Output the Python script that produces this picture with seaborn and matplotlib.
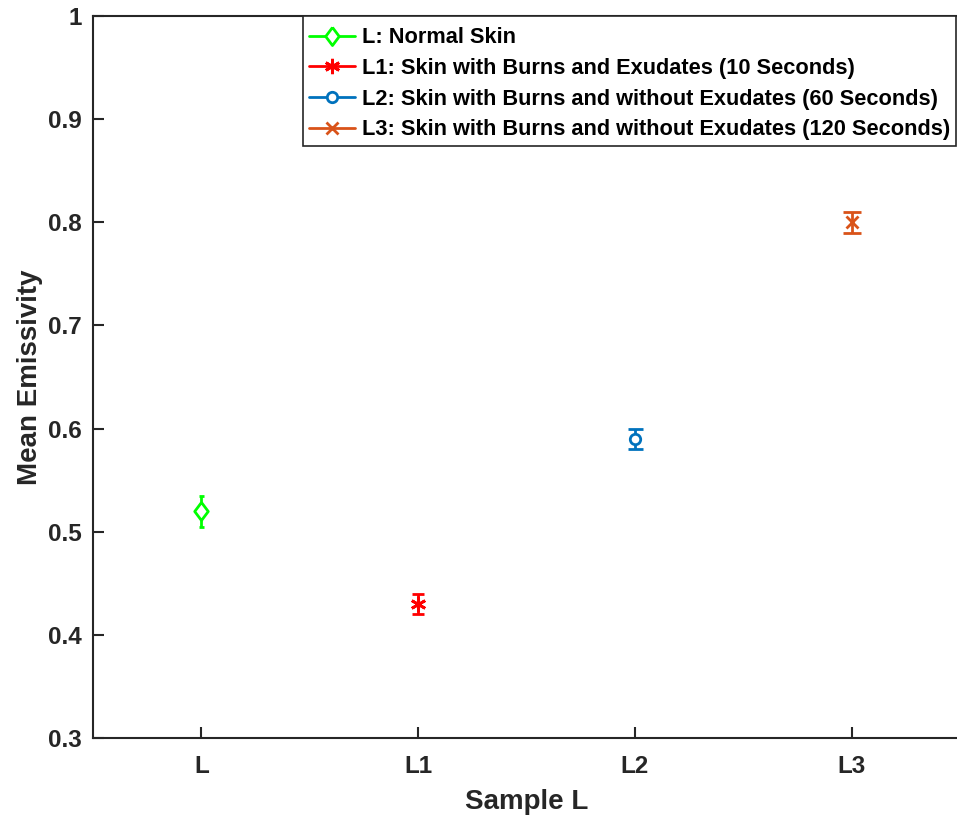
import matplotlib
matplotlib.use("Agg")
import matplotlib.pyplot as plt
import seaborn as sns
import pandas as pd
from matplotlib.lines import Line2D

categories = ["L", "L1", "L2", "L3"]
means = [0.52, 0.43, 0.59, 0.80]
errors = [0.015, 0.01, 0.01, 0.01]
labels = ["L: Normal Skin",
          "L1: Skin with Burns and Exudates (10 Seconds)",
          "L2: Skin with Burns and without Exudates (60 Seconds)",
          "L3: Skin with Burns and without Exudates (120 Seconds)"]
colors = ["#00FF00", "#FF0000", "#0072BD", "#D95319"]

diamond = [(0, 1), (0.75, 0), (0, -1), (-0.75, 0), (0, 1)]
markers = [diamond, (6, 2, 0), "o", "x"]
msizes = [13, 11, 7.5, 8.5]
capsizes = [1.8, 4.3, 5.4, 6.2]
hollow = [True, False, True, False]

sns.set_style("white")
plt.rcParams['font.family'] = ['Liberation Sans', 'DejaVu Sans']
plt.rcParams['font.weight'] = 'bold'

fig = plt.figure(figsize=(9.57, 8.16), dpi=100)
ax = fig.add_axes([93/957, 78/816, (960-93)/957, (738-16)/816])

df = pd.DataFrame({"x": range(1, 5), "y": means, "err": errors, "cat": categories})

handles = []
for i, row in df.iterrows():
    c = colors[i]
    ax.errorbar(row["x"], row["y"], yerr=row["err"], fmt="none", ecolor=c,
                elinewidth=2, capsize=capsizes[i], capthick=2, zorder=2)
    m = markers[i]
    ax.plot(row["x"], row["y"], marker=m, markersize=msizes[i],
            markerfacecolor="white" if hollow[i] else c, markeredgecolor=c,
            markeredgewidth=2, linestyle="none", zorder=3)
    handles.append(Line2D([0], [0], color=c, lw=2, marker=m,
                          markersize=msizes[i],
                          markerfacecolor="white" if hollow[i] else c,
                          markeredgecolor=c, markeredgewidth=2))

ax.set_xlim(0.5, 4.5)
ax.set_ylim(0.3, 1.0)
ax.set_xticks(range(1, 5))
ax.set_xticklabels(categories)
ax.set_yticks([0.3, 0.4, 0.5, 0.6, 0.7, 0.8, 0.9, 1.0])
ax.set_yticklabels(["0.3", "0.4", "0.5", "0.6", "0.7", "0.8", "0.9", "1"])
ax.tick_params(direction="in", length=8, width=1.5, labelsize=17.5,
               colors="#262626", pad=8, bottom=True, left=True)
ax.tick_params(axis="x", pad=12)
for lab in ax.get_xticklabels() + ax.get_yticklabels():
    lab.set_fontweight("bold")
    lab.set_color("#262626")
for s in ax.spines.values():
    s.set_color("#262626")
    s.set_linewidth(1.5)

ax.set_xlabel("Sample L", fontsize=20, fontweight="bold", labelpad=8, color="#262626")
ax.set_ylabel("Mean Emissivity", fontsize=20, fontweight="bold", labelpad=4, color="#262626")

leg = ax.legend(handles, labels, loc="upper right",
                bbox_to_anchor=(956/957, 1 - 16/816),
                bbox_transform=fig.transFigure,
                fontsize=15.7, frameon=True, fancybox=False, handlelength=2.1,
                handletextpad=0.3, borderpad=0.28, labelspacing=0.44,
                borderaxespad=0, title=" ", title_fontsize=2)
leg._legend_box.sep = 1
leg.get_frame().set_edgecolor("#262626")
leg.get_frame().set_linewidth(1.2)
leg.get_frame().set_alpha(1)
for t in leg.get_texts():
    t.set_fontweight("bold")
    t.set_color("black")

fig.savefig("out.png", dpi=100)
